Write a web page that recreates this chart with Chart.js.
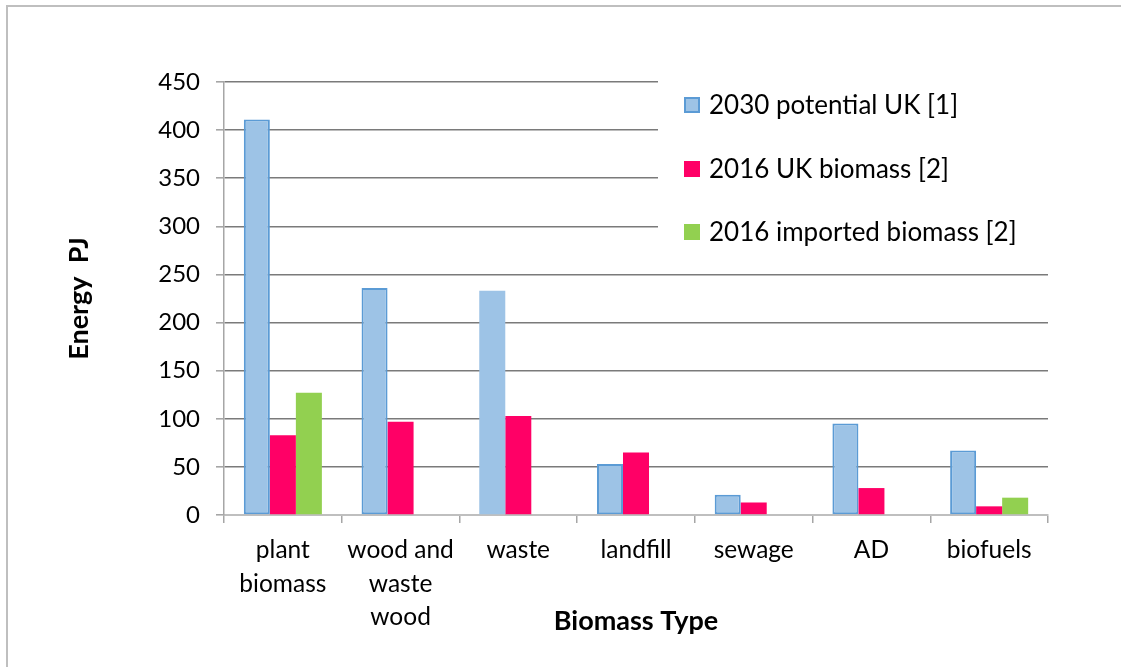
<!DOCTYPE html>
<html><head><meta charset="utf-8">
<script src="https://cdn.jsdelivr.net/npm/chart.js@4/dist/chart.umd.min.js"></script>
<style>html,body{margin:0;padding:0;background:#fff}#wrap{width:1121px;height:667px;position:relative}</style>
</head><body><div id="wrap"><canvas id="c" width="1121" height="667"></canvas></div>
<script>
const categories = [["plant","biomass"],["wood and","waste","wood"],["waste"],["landfill"],["sewage"],["AD"],["biofuels"]];
const seriesNames = ["2030 potential UK [1]","2016 UK biomass [2]","2016 imported biomass [2]"];
const potential2030 = [411, 236, 233, 53, 21, 95, 67];
const ukBiomass2016 = [83, 97, 103, 65, 13, 28, 9];
const imported2016 = [127, null, null, null, null, null, 18];
const yTicks = [0,50,100,150,200,250,300,350,400,450];

const FONT = "Lato, 'Liberation Sans', sans-serif";
const BLUE = "#9dc3e6", BLUE_B = "#5b9bd5", PINK = "#ff0066", GREEN = "#92d050";

const bgPlugin = {
  id: 'bg',
  beforeDraw(chart){
    const ctx = chart.ctx;
    ctx.save();
    ctx.fillStyle = '#fff';
    ctx.fillRect(0,0,chart.width,chart.height);
    ctx.strokeStyle = '#bfbfbf';
    ctx.lineWidth = 2;
    ctx.beginPath();
    ctx.moveTo(7, chart.height); ctx.lineTo(7, 6); ctx.lineTo(chart.width, 6);
    ctx.stroke();
    ctx.restore();
  }
};

const legendPlugin = {
  id: 'boxLegend',
  beforeDatasetsDraw(chart){
    const ctx = chart.ctx;
    const ca = chart.chartArea;
    ctx.save();
    ctx.fillStyle = '#fff';
    ctx.fillRect(658, ca.top - 3, ca.right - 658 + 2, 172);
    const ys = [105, 169, 232];
    ctx.font = "26px " + FONT;
    ctx.textBaseline = 'middle';
    ctx.textAlign = 'left';
    chart.data.datasets.forEach((ds, i) => {
      const y = ys[i];
      ctx.fillStyle = ds.legendFill;
      ctx.fillRect(684, y - 8, 16, 16);
      if (i === 0) { ctx.strokeStyle = BLUE_B; ctx.lineWidth = 2; ctx.strokeRect(685, y - 7, 14, 14); }
      ctx.fillStyle = '#000';
      ctx.fillText(ds.label, 709, y + 1);
    });
    ctx.restore();
  }
};

new Chart(document.getElementById('c'), {
  type: 'bar',
  data: {
    labels: categories,
    datasets: [
      { label: seriesNames[0], data: potential2030, backgroundColor: BLUE, borderColor: BLUE_B,
        borderWidth: [2,2,0,2,2,2,2], borderSkipped: false, legendFill: BLUE },
      { label: seriesNames[1], data: ukBiomass2016, backgroundColor: PINK, borderWidth: 0, legendFill: PINK },
      { label: seriesNames[2], data: imported2016, backgroundColor: GREEN, borderWidth: 0, legendFill: GREEN }
    ]
  },
  options: {
    responsive: false,
    animation: false,
    devicePixelRatio: 1,
    layout: { padding: { top: 82, right: 73, left: 0, bottom: 0 } },
    datasets: { bar: { categoryPercentage: 0.663, barPercentage: 1.0 } },
    plugins: { legend: { display: false }, tooltip: { enabled: false } },
    scales: {
      x: {
        grid: { offset: true, drawOnChartArea: false, drawTicks: true, tickLength: 8, color: '#a6a6a6', lineWidth: 1.5 },
        border: { display: true, color: '#bfbfbf', width: 2 },
        ticks: { color: '#000', font: { family: FONT, size: 24.5, lineHeight: 1.35 }, padding: 11, maxRotation: 0, autoSkip: false },
        title: { display: true, text: 'Biomass Type', color: '#000', font: { family: FONT, size: 27, weight: 'bold' }, padding: { top: 0, bottom: 30 } },
        afterFit(s){ s.height = 152; }
      },
      y: {
        min: 0, max: 450,
        afterBuildTicks(s){ s.ticks = yTicks.map(v => ({ value: v })); },
        grid: { color: c => c.tick && c.tick.value === 0 ? 'rgba(0,0,0,0)' : '#7a7a7a', lineWidth: 1.6, drawTicks: true, tickLength: 8, tickColor: '#a6a6a6' },
        border: { display: true, color: '#a6a6a6', width: 1.5 },
        ticks: { color: '#000', font: { family: FONT, size: 24 }, padding: 16 },
        title: { display: true, text: 'Energy  PJ', color: '#000', font: { family: FONT, size: 27, weight: 'bold' }, padding: { top: 63, bottom: 0 } },
        afterFit(s){ s.width = 224; }
      }
    }
  },
  plugins: [bgPlugin, legendPlugin]
});
</script>
</body></html>
